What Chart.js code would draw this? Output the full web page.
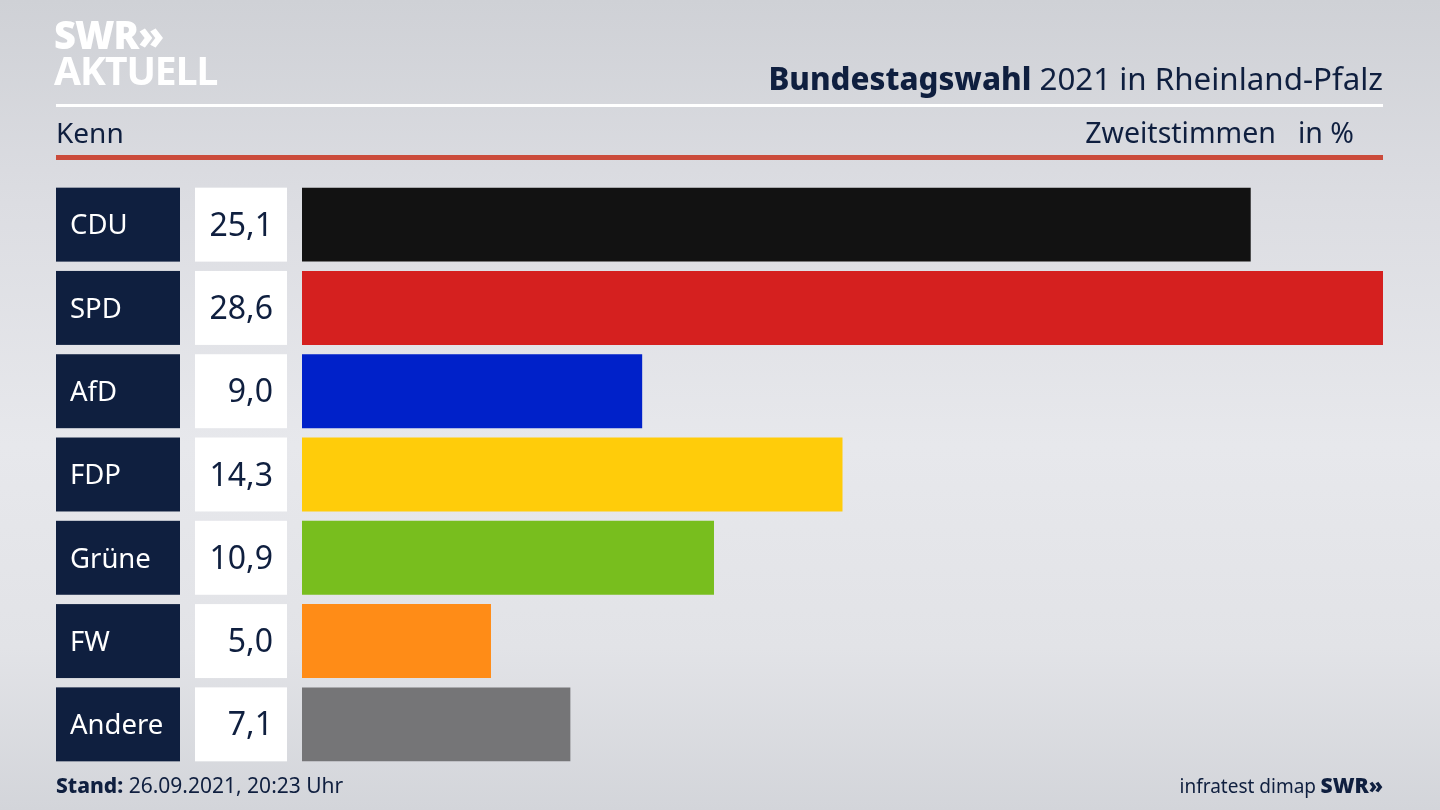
<!DOCTYPE html>
<html><head><meta charset="utf-8">
<script src="https://cdn.jsdelivr.net/npm/chart.js@4/dist/chart.umd.min.js"></script>
<style>
html,body{margin:0;padding:0;width:1440px;height:810px;overflow:hidden;}
body{background:linear-gradient(180deg,#cfd1d6 0%,#dcdde2 25%,#e7e8ec 55%,#e2e3e7 80%,#d3d5da 100%);font-family:"Noto Sans","Open Sans",sans-serif;color:#0f1f3f;position:relative;}
#wrap{position:absolute;left:0;top:0;width:1440px;height:810px;}
.abs{position:absolute;white-space:nowrap;}
#logo1{left:54px;top:12px;font-family:"Noto Sans";font-weight:900;font-size:38px;color:#fff;letter-spacing:-1px;line-height:44px;}
#logo2{left:54px;top:48px;font-family:"Noto Sans";font-weight:700;font-size:39px;color:#fff;letter-spacing:-1px;line-height:44px;}
#title{right:57px;top:56px;font-size:31.3px;line-height:44px;color:#0f1f3f;}
#title b{font-weight:800;}
#wline{left:56px;top:104px;width:1327px;height:3px;background:#fff;}
#rline{left:56px;top:155px;width:1327px;height:5px;background:#cb4b3b;}
#kenn{left:56px;top:113px;font-size:28px;line-height:38px;}
#zw{right:86px;top:113px;font-size:28.5px;line-height:38px;}
#stand{left:56px;top:770px;font-size:21px;line-height:30px;}
#stand b{font-weight:800;}
#infra{right:124px;top:771px;font-size:19px;line-height:30px;}
#swr{right:57px;top:770px;font-size:21px;line-height:30px;font-weight:900;}
</style></head>
<body>
<div id="wrap"><canvas id="c" width="1440" height="810"></canvas></div>
<div class="abs" id="logo1">SWR»</div>
<div class="abs" id="logo2">AKTUELL</div>
<div class="abs" id="title"><b>Bundestagswahl</b> 2021 in Rheinland-Pfalz</div>
<div class="abs" id="wline"></div>
<div class="abs" id="kenn">Kenn</div>
<div class="abs" id="zw"><span>Zweitstimmen</span><span style="display:inline-block;width:22px"></span><span>in %</span></div>
<div class="abs" id="rline"></div>
<div class="abs" id="stand"><b>Stand:</b> 26.09.2021, 20:23 Uhr</div>
<div class="abs" id="infra">infratest dimap</div>
<div class="abs" id="swr">SWR»</div>
<script>
const parties = ["CDU","SPD","AfD","FDP","Grüne","FW","Andere"];
const values = [25.1,28.6,9.0,14.3,10.9,5.0,7.1];
const valueLabels = ["25,1","28,6","9,0","14,3","10,9","5,0","7,1"];
const colors = ["#121212","#d5201f","#0021c9","#ffcc0a","#78be1e","#ff8c17","#757577"];

const boxPlugin = {
  id:'boxes',
  afterDatasetsDraw(chart){
    const ctx = chart.ctx;
    const meta = chart.getDatasetMeta(0);
    meta.data.forEach((bar,i)=>{
      const h = bar.height;
      const top = bar.y - h/2;
      ctx.save();
      ctx.fillStyle = '#0f1f3f';
      ctx.fillRect(56, top, 124, h);
      ctx.fillStyle = '#ffffff';
      ctx.fillRect(195, top, 92, h);
      ctx.textBaseline = 'middle';
      ctx.font = '27.5px "Noto Sans"';
      ctx.fillStyle = '#ffffff';
      ctx.textAlign = 'left';
      ctx.fillText(parties[i], 70, bar.y + 2);
      ctx.fillStyle = '#0f1f3f';
      ctx.font = '32px "Noto Sans"';
      ctx.textAlign = 'right';
      ctx.fillText(valueLabels[i], 273, bar.y + 2);
      ctx.restore();
    });
  }
};

new Chart(document.getElementById('c'),{
  type:'bar',
  data:{labels:parties,datasets:[{data:values,backgroundColor:colors,borderWidth:0,barPercentage:0.888,categoryPercentage:1}]},
  options:{
    indexAxis:'y',responsive:false,animation:false,
    layout:{padding:{left:302,right:57,top:183,bottom:44}},
    plugins:{legend:{display:false},tooltip:{enabled:false}},
    scales:{
      x:{display:false,min:0,max:Math.max(...values),grid:{display:false}},
      y:{display:false,grid:{display:false}}
    }
  },
  plugins:[boxPlugin]
});
</script>
</body></html>
